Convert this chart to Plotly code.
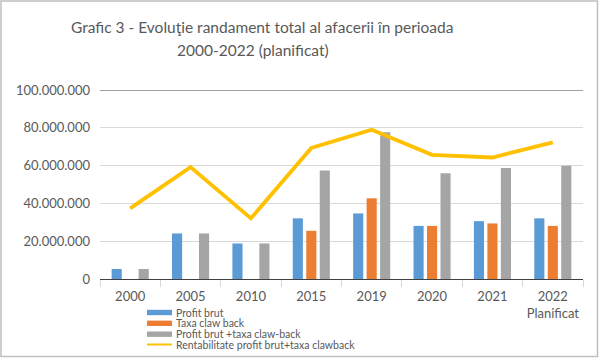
import plotly.graph_objects as go

categories = ["2000", "2005", "2010", "2015", "2019", "2020", "2021", "2022<br>Planificat"]
profit_brut = [5.3e6, 24.1e6, 18.8e6, 32.1e6, 34.7e6, 28.1e6, 30.6e6, 32.1e6]
taxa_claw_back = [0, 0, 0, 25.5e6, 42.7e6, 28.1e6, 29.4e6, 28.1e6]
profit_plus_taxa = [5.3e6, 24.1e6, 18.8e6, 57.4e6, 77.6e6, 56.0e6, 58.7e6, 59.9e6]
rentabilitate = [37.4e6, 59.2e6, 32.1e6, 69.3e6, 79.0e6, 65.7e6, 64.3e6, 72.3e6]
y_ticks = [0, 20e6, 40e6, 60e6, 80e6, 100e6]
y_tick_labels = ["0", "20.000.000", "40.000.000", "60.000.000", "80.000.000", "100.000.000"]

series_names = ["Profit brut", "Taxa claw back", "Profit brut +taxa claw-back",
                "Rentabilitate profit brut+taxa clawback"]
colors = ["#5b9bd5", "#ed7d31", "#a5a5a5", "#ffc000"]
title_lines = ["Grafic 3 - Evoluţie randament total al afacerii în perioada", "2000-2022 (planificat)"]

FONT = "Lato"
TXT = "#595959"

fig = go.Figure()
for name, vals, col in zip(series_names[:3], [profit_brut, taxa_claw_back, profit_plus_taxa], colors[:3]):
    fig.add_trace(go.Bar(x=categories, y=vals, name=name, marker_color=col,
                         marker_line_width=0, showlegend=False))
fig.add_trace(go.Scatter(x=categories, y=rentabilitate, name=series_names[3], mode="lines",
                         line=dict(color=colors[3], width=3.8), showlegend=False))

# plot area geometry (pixels) for paper conversions
L, R, T, B = 100, 17, 90, 79
W, H = 600 - L - R, 358 - T - B
def px(x): return (x - L) / W
def py(y): return (358 - B - y) / H

shapes = []
# outer border
shapes.append(dict(type="rect", xref="paper", yref="paper", x0=px(1), x1=px(597.5), y0=py(1), y1=py(356.5),
                   line=dict(color="#bfbfbf", width=1.5), fillcolor="rgba(0,0,0,0)", layer="below"))
# top line at 100M
shapes.append(dict(type="line", xref="paper", yref="y", x0=0, x1=1, y0=100e6, y1=100e6,
                   line=dict(color="#404040", width=1.2)))

annotations = []
for text, xc, yc in zip(title_lines, [261.5, 253], [27, 50]):
    annotations.append(dict(xref="paper", yref="paper", x=px(xc), y=py(yc), text=text,
                            showarrow=False, xanchor="center", yanchor="middle",
                            font=dict(family=FONT, size=15.5, color=TXT)))
rows = [312.5, 323.3, 334.2, 344.5]
for i, (name, col) in enumerate(zip(series_names, colors)):
    yc = rows[i]
    if i < 3:
        shapes.append(dict(type="rect", xref="paper", yref="paper", x0=px(147), x1=px(172),
                           y0=py(yc + 2.7), y1=py(yc - 2.7), fillcolor=col, line=dict(width=0)))
    else:
        shapes.append(dict(type="line", xref="paper", yref="paper", x0=px(147), x1=px(172),
                           y0=py(yc), y1=py(yc), line=dict(color=col, width=2)))
    annotations.append(dict(xref="paper", yref="paper", x=px(175), y=py(yc), text=name,
                            showarrow=False, xanchor="left", yanchor="middle",
                            borderpad=0,
                            font=dict(family=FONT, size=10.5, color=TXT)))

fig.update_layout(
    width=600, height=358,
    margin=dict(l=L, r=R, t=T, b=B, autoexpand=False),
    paper_bgcolor="white", plot_bgcolor="white",
    barmode="group", bargap=0.33, bargroupgap=0.25,
    showlegend=False,
    shapes=shapes, annotations=annotations,
    font=dict(family=FONT, color=TXT),
)
fig.update_xaxes(type="category", showline=True, linecolor="#404040", linewidth=1.2,
                 ticks="outside", tickson="boundaries", ticklen=7, tickcolor="#d9d9d9",
                 tickangle=0, automargin=False, ticklabelstandoff=5,
                 tickfont=dict(family=FONT, size=13, color=TXT), showgrid=False)
fig.update_yaxes(range=[0, 100e6], tickvals=y_ticks, ticktext=y_tick_labels,
                 showgrid=True, gridcolor="#d9d9d9", gridwidth=1, zeroline=False, automargin=False,
                 tickfont=dict(family=FONT, size=13, color=TXT), ticks="", showline=False,
                 ticklabelstandoff=9)

fig.write_html("out.html", config={"displayModeBar": False},
               post_script="document.body.style.margin='0px';")
